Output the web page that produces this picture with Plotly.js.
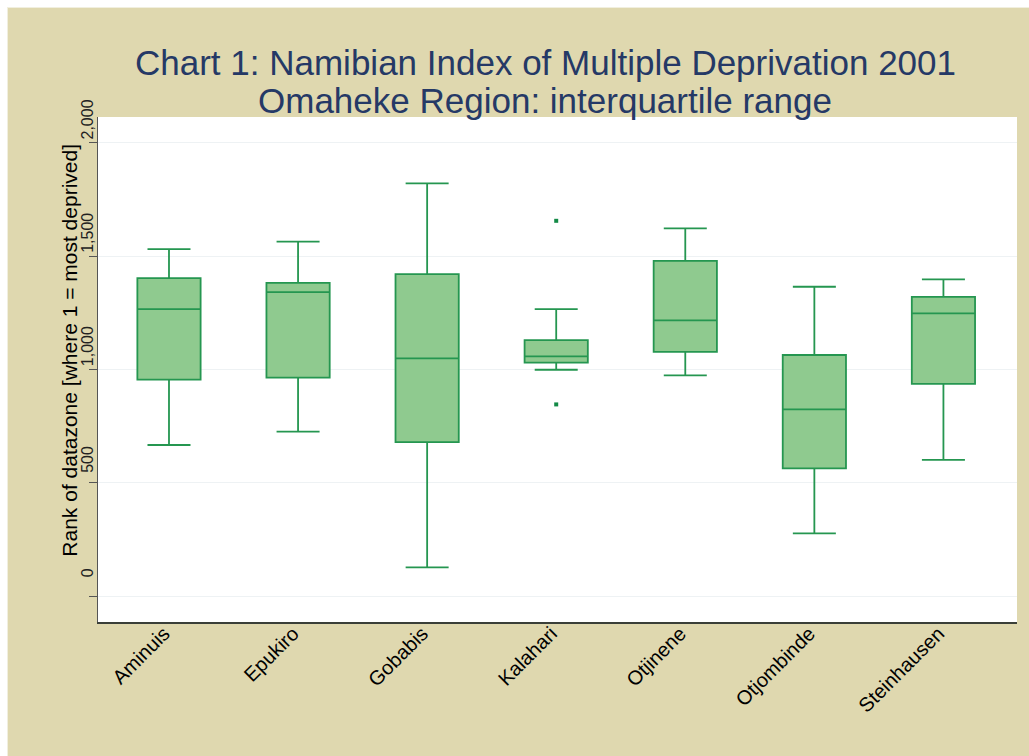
<!DOCTYPE html>
<html>
<head>
<meta charset="utf-8">
<script src="https://cdn.plot.ly/plotly-3.0.1.min.js"></script>
<style>
  html, body { margin: 0; padding: 0; background: #ffffff; width: 1029px; height: 756px; overflow: hidden; }
  #frame { position: absolute; left: 7px; top: 7px; width: 1022px; height: 749px; background: #F1EFDF; }
  #chart { position: absolute; left: 8px; top: 8px; width: 1021px; height: 748px; }
</style>
</head>
<body>
<div id="frame"></div>
<div id="chart"></div>
<script>
// Data
const categories = ["Aminuis", "Epukiro", "Gobabis", "Kalahari", "Otjinene", "Otjombinde", "Steinhausen"];
const lowerWhisker = [667, 726, 127, 999, 974, 277, 601];
const q1Values     = [955, 964, 680, 1030, 1078, 564, 937];
const medianValues = [1266, 1341, 1049, 1058, 1217, 824, 1248];
const q3Values     = [1403, 1382, 1421, 1130, 1479, 1064, 1320];
const upperWhisker = [1531, 1564, 1821, 1266, 1623, 1365, 1398];
const outlierCategories = ["Kalahari", "Kalahari"];
const outlierValues = [1656, 846];
const yTickValues = [0, 500, 1000, 1500, 2000];

const titleLine1 = "Chart 1: Namibian Index of Multiple Deprivation 2001";
const titleLine2 = "Omaheke Region: interquartile range";
const yTitle = "Rank of datazone [where 1 = most deprived]";

const boxTrace = {
  type: "box",
  x: categories,
  q1: q1Values,
  median: medianValues,
  q3: q3Values,
  lowerfence: lowerWhisker,
  upperfence: upperWhisker,
  boxpoints: false,
  width: 0.49,
  whiskerwidth: 0.68,
  fillcolor: "#8FCA8F",
  line: { color: "#259650", width: 1.8 },
  hoverinfo: "skip",
  showlegend: false
};

const outlierTrace = {
  type: "scatter",
  mode: "markers",
  x: outlierCategories,
  y: outlierValues,
  marker: { symbol: "square", size: 4, color: "#138A46" },
  hoverinfo: "skip",
  showlegend: false
};

const font = "'Liberation Sans', Arial, sans-serif";

const layout = {
  width: 1021,
  height: 748,
  margin: { l: 90, r: 12, t: 109, b: 134, pad: 0 },
  paper_bgcolor: "#DFD8AF",
  plot_bgcolor: "#FFFFFF",
  font: { family: font, color: "#000000" },
  showlegend: false,
  xaxis: {
    type: "category",
    categoryorder: "array",
    categoryarray: categories,
    range: [-0.55, 6.57],
    showgrid: false,
    zeroline: false,
    showline: true,
    linecolor: "#3A3F38",
    linewidth: 2,
    ticks: "",
    tickangle: -45,
    ticklabelstandoff: -10,
    ticklabelshift: -5,
    tickfont: { family: font, size: 20, color: "#000000" },
    fixedrange: true
  },
  yaxis: {
    range: [-114, 2114],
    tickvals: yTickValues,
    tickformat: ",.0f",
    tickangle: -90,
    ticks: "outside",
    ticklen: 8,
    tickwidth: 1,
    tickcolor: "#555555",
    ticklabelshift: -21,
    ticklabelstandoff: -11,
    tickfont: { family: font, size: 16, color: "#222222" },
    showgrid: true,
    gridcolor: "#EEF2F4",
    gridwidth: 1,
    zeroline: false,
    showline: true,
    linecolor: "#555555",
    linewidth: 1.5,
    fixedrange: true
  },
  annotations: [
    {
      text: titleLine1, xref: "paper", yref: "paper", x: 0.4864, y: 1.108,
      xanchor: "center", yanchor: "middle", showarrow: false,
      font: { family: font, size: 35, color: "#253966" }
    },
    {
      text: titleLine2, xref: "paper", yref: "paper", x: 0.4864, y: 1.0319,
      xanchor: "center", yanchor: "middle", showarrow: false,
      font: { family: font, size: 35, color: "#253966" }
    },
    {
      text: yTitle, xref: "paper", yref: "paper", x: -0.0314, y: 0.5376,
      xanchor: "center", yanchor: "middle", textangle: -90, showarrow: false,
      font: { family: font, size: 21, color: "#000000" }
    }
  ]
};

Plotly.newPlot("chart", [boxTrace, outlierTrace], layout, { displayModeBar: false, staticPlot: true });
</script>
</body>
</html>
